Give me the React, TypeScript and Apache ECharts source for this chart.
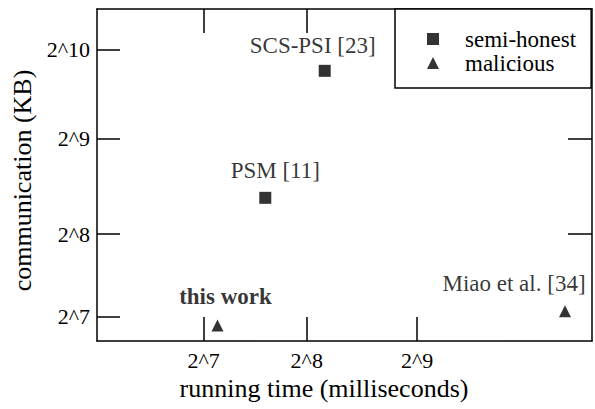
import React, { useEffect, useRef } from 'react';
import * as echarts from 'echarts';

// Axis ticks (log2 exponents) and their labels
const xTickValues = [7, 7.966, 9];
const xTickLabels = ['2^7', '2^8', '2^9'];
const yTickValues = [7, 7.922, 9, 10];
const yTickLabels = ['2^7', '2^8', '2^9', '2^10'];
const yRightTickValues = [7.922, 9, 10];

// Series data: running time (ms) and communication (KB)
const semiHonestNames = ['PSM [11]', 'SCS-PSI [23]'];
const semiHonestTimeMs = [191, 281];
const semiHonestCommKB = [322, 866];

const maliciousNames = ['this work', 'Miao et al. [34]'];
const maliciousTimeMs = [140, 1339];
const maliciousCommKB = [119, 133];

const FONT = 'Liberation Serif';

const labelOffsets: Record<string, number[]> = {
  'PSM [11]': [10, -27],
  'SCS-PSI [23]': [-12, -25.5],
  'this work': [8, -29],
  'Miao et al. [34]': [-51, -28],
};

const pick = (vals: number[], labels: string[]) => (v: number) => {
  const i = vals.findIndex((t) => Math.abs(t - v) < 1e-6);
  return i >= 0 ? labels[i] : '';
};

const makeData = (names: string[], times: number[], comms: number[]) =>
  names.map((n, i) => ({
    name: n,
    value: [Math.log2(times[i]), Math.log2(comms[i])],
    label: {
      show: true,
      formatter: n,
      position: 'inside',
      offset: labelOffsets[n],
      color: '#000',
      fontFamily: FONT,
      fontSize: 23,
      fontWeight: n === 'this work' ? 'bold' : 'normal',
      align: 'center',
      verticalAlign: 'middle',
    },
  }));

export default function App() {
  const ref = useRef<HTMLDivElement>(null);
  useEffect(() => {
    document.body.style.margin = '0';
    if (!ref.current) return;
    const chart = echarts.init(ref.current, undefined, { renderer: 'svg' });
    const axisLine = { show: true, lineStyle: { color: '#000', width: 1.5 } };
    const tickStyle = { color: '#000', width: 1.5 };
    chart.setOption({
      animation: false,
      backgroundColor: '#fff',
      textStyle: { fontFamily: FONT, color: '#000' },
      grid: { left: 97, right: 3, top: 9, bottom: 68 },
      xAxis: [
        {
          type: 'value',
          position: 'bottom',
          min: 6,
          max: 10.64,
          axisLine,
          splitLine: { show: false },
          axisTick: { show: true, inside: true, length: 24, lineStyle: tickStyle, customValues: xTickValues },
          axisLabel: {
            show: true,
            customValues: xTickValues,
            formatter: pick(xTickValues, xTickLabels),
            color: '#000',
            fontFamily: FONT,
            fontSize: 22,
            margin: 8,
          },
          name: 'running time (milliseconds)',
          nameLocation: 'middle',
          nameGap: 30,
          nameTextStyle: { color: '#000', fontFamily: FONT, fontSize: 26, padding: [0, 41, 0, 0] },
        },
        {
          type: 'value',
          position: 'top',
          min: 6,
          max: 10.64,
          axisLine,
          splitLine: { show: false },
          axisTick: { show: true, inside: true, length: 24, lineStyle: tickStyle, customValues: xTickValues },
          axisLabel: { show: false },
        },
      ],
      yAxis: [
        {
          type: 'value',
          position: 'left',
          min: 6.722,
          max: 10.453,
          axisLine,
          splitLine: { show: false },
          axisTick: { show: true, inside: true, length: 23, lineStyle: tickStyle, customValues: yTickValues },
          axisLabel: {
            show: true,
            customValues: yTickValues,
            formatter: pick(yTickValues, yTickLabels),
            color: '#000',
            fontFamily: FONT,
            fontSize: 22,
            margin: 7,
          },
          name: 'communication (KB)',
          nameLocation: 'middle',
          nameGap: 54,
          nameTextStyle: { color: '#000', fontFamily: FONT, fontSize: 26, padding: [0, 11, 0, 0] },
        },
        {
          type: 'value',
          position: 'right',
          min: 6.722,
          max: 10.453,
          axisLine,
          splitLine: { show: false },
          axisTick: { show: true, inside: true, length: 24, lineStyle: tickStyle, customValues: yRightTickValues },
          axisLabel: { show: false },
        },
      ],
      legend: {
        orient: 'vertical',
        left: 395,
        top: 9,
        padding: [18.5, 15, 13.5, 32],
        itemWidth: 12,
        itemHeight: 12,
        itemGap: 1,
        borderColor: '#000',
        borderWidth: 1.5,
        backgroundColor: '#fff',
        textStyle: { color: '#000', fontFamily: FONT, fontSize: 23, padding: [0, 0, 0, 21] },
        data: [
          { name: 'semi-honest', icon: 'rect' },
          { name: 'malicious', icon: 'triangle' },
        ],
      },
      series: [
        {
          type: 'scatter',
          name: 'semi-honest',
          symbol: 'rect',
          symbolSize: 12,
          itemStyle: { color: '#000' },
          data: makeData(semiHonestNames, semiHonestTimeMs, semiHonestCommKB),
        },
        {
          type: 'scatter',
          name: 'malicious',
          symbol: 'triangle',
          symbolSize: 12,
          itemStyle: { color: '#000' },
          data: makeData(maliciousNames, maliciousTimeMs, maliciousCommKB),
        },
      ],
    });
    return () => chart.dispose();
  }, []);
  return <div ref={ref} style={{ width: 595, height: 409, position: 'fixed', left: 0, top: 0 }} />;
}
